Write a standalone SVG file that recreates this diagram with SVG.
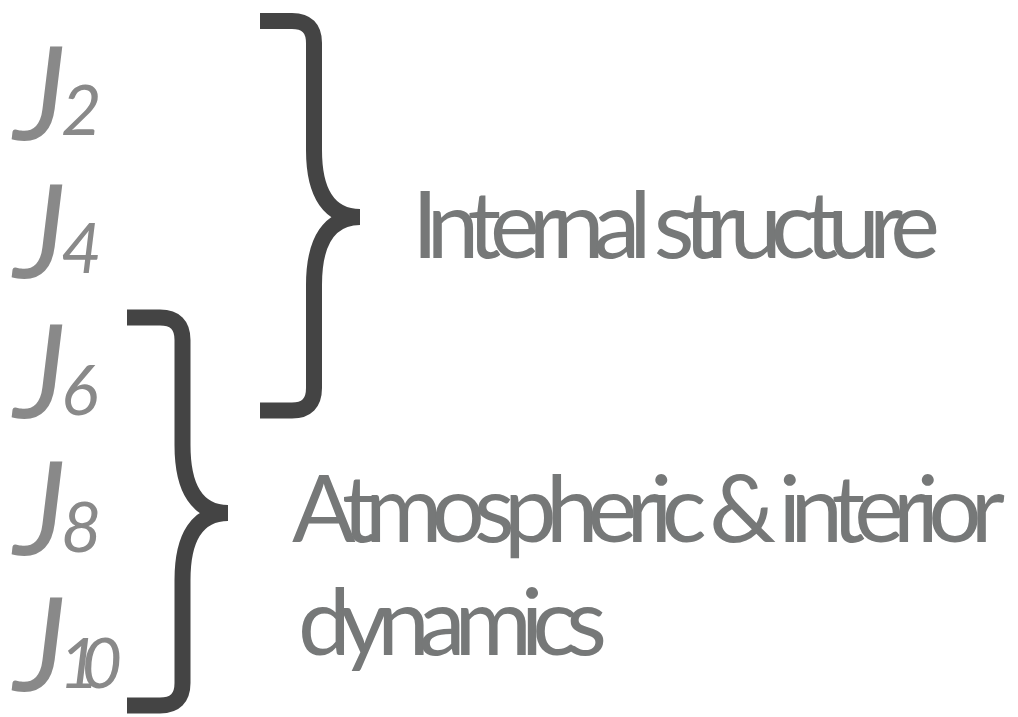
<svg xmlns="http://www.w3.org/2000/svg" width="1018" height="717" viewBox="0 0 1018 717">
  <style>
    .coef { font-family: Lato, "Open Sans", "DejaVu Sans", sans-serif; font-style: italic; fill: #898989; }
    .coef .j { font-size: 130px; }
    .coef .n { font-size: 70px; }
    .label { font-family: Lato, "Open Sans", "DejaVu Sans", sans-serif; font-size: 94px; fill: #767878; }
    .brace { fill: none; stroke: #444444; stroke-width: 16; stroke-linecap: butt; stroke-linejoin: round; }
  </style>
  <rect width="1018" height="717" fill="#ffffff"/>

  <!-- zonal harmonic coefficients -->
  <g id="J2" class="coef"><text class="j" x="14" y="140">J</text><text class="n" x="61" y="135">2</text></g>
  <g id="J4" class="coef"><text class="j" x="14" y="278">J</text><text class="n" x="61" y="273">4</text></g>
  <g id="J6" class="coef"><text class="j" x="14" y="418">J</text><text class="n" x="61" y="415">6</text></g>
  <g id="J8" class="coef"><text class="j" x="14" y="555">J</text><text class="n" x="61" y="552">8</text></g>
  <g id="J10" class="coef"><text class="j" x="14" y="691">J</text><text class="n" x="59" y="688" textLength="63">10</text></g>

  <!-- grouping braces -->
  <g id="connectors">
    <path id="brace-internal" class="brace" d="M260,21 H292 Q314,21 314,43 V150 C314,195 330,217 360,217 M360,217 C330,217 314,240 314,285 V388 Q314,410.5 292,410.5 H260"/>
    <path id="brace-dynamics" class="brace" d="M127,317.5 H160 Q182.5,317.5 182.5,340 V445 C182.5,490 198,513 228,513 M228,513 C198,513 182.5,536 182.5,580 V683 Q182.5,705.5 160,705.5 H127"/>
  </g>

  <!-- group labels -->
  <g id="internal-structure"><text class="label" x="412" y="258" textLength="528">Internal structure</text></g>
  <g id="atmospheric-dynamics">
    <text class="label" x="292" y="542" textLength="713">Atmospheric &amp; interior</text>
    <text class="label" x="298" y="655" textLength="309">dynamics</text>
  </g>
</svg>
